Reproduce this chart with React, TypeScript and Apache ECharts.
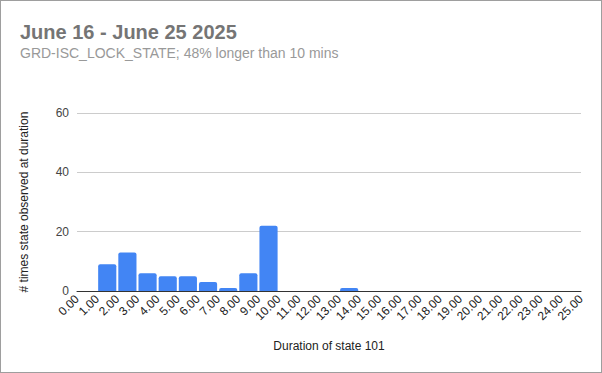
import React, { useEffect, useRef } from "react";
import * as echarts from "echarts";

const titleText = "June 16 - June 25 2025";
const subtitleText = "GRD-ISC_LOCK_STATE; 48% longer than 10 mins";
const xAxisTitle = "Duration of state 101";
const yAxisTitle = "# times state observed at duration";
const binStarts = [0, 1, 2, 3, 4, 5, 6, 7, 8, 9, 10, 11, 12, 13, 14, 15, 16, 17, 18, 19, 20, 21, 22, 23, 24];
const counts = [0, 9, 13, 6, 5, 5, 3, 1, 6, 22, 0, 0, 0, 1, 0, 0, 0, 0, 0, 0, 0, 0, 0, 0, 0];
const binWidth = 1;

export default function App() {
  const ref = useRef<HTMLDivElement>(null);
  useEffect(() => {
    if (!ref.current) return;
    const chart = echarts.init(ref.current, null, { renderer: "svg" });
    const data = binStarts
      .map((s, i) => [s, s + binWidth, counts[i]])
      .filter((d) => d[2] > 0);
    chart.setOption({
      animation: false,
      textStyle: { fontFamily: "Liberation Sans, Arial, sans-serif" },
      title: [
        {
          text: titleText,
          left: 14,
          top: 16,
          textStyle: { fontSize: 20, fontWeight: "bold", color: "#757575", fontFamily: "Liberation Sans, Arial, sans-serif" },
        },
        {
          text: subtitleText,
          left: 14,
          top: 40,
          textStyle: { fontSize: 14, fontWeight: "normal", color: "#999999", fontFamily: "Liberation Sans, Arial, sans-serif" },
        },
      ],
      grid: { left: 76, right: 20, top: 112, bottom: 81 },
      xAxis: {
        type: "value",
        min: 0,
        max: 25,
        interval: 1,
        name: xAxisTitle,
        nameLocation: "middle",
        nameGap: 49,
        nameTextStyle: { color: "#222", fontSize: 12 },
        axisLine: { show: true, lineStyle: { color: "#333", width: 1 } },
        axisTick: { show: false },
        splitLine: { show: false },
        axisLabel: {
          rotate: 45,
          margin: 6,
          color: "#222",
          fontSize: 12,
          formatter: (v: number) => v.toFixed(2),
          showMinLabel: true,
          showMaxLabel: true,
        },
      },
      yAxis: {
        type: "value",
        min: 0,
        max: 60,
        interval: 20,
        name: yAxisTitle,
        nameLocation: "middle",
        nameGap: 47,
        nameTextStyle: { color: "#222", fontSize: 12 },
        axisLine: { show: false },
        axisTick: { show: false },
        splitLine: { lineStyle: { color: "#cccccc", width: 1 } },
        axisLabel: { color: "#444", fontSize: 12, margin: 8 },
      },
      series: [
        {
          type: "custom",
          data,
          encode: { x: [0, 1], y: 2 },
          renderItem: (params: any, api: any) => {
            const start = api.coord([api.value(0), api.value(2)]);
            const end = api.coord([api.value(1), 0]);
            return {
              type: "rect",
              shape: {
                x: start[0] + 1,
                y: start[1],
                width: end[0] - start[0] - 2,
                height: end[1] - start[1],
                r: [2, 2, 0, 0],
              },
              style: { fill: "#4285f4" },
            };
          },
        },
      ],
    });
    return () => chart.dispose();
  }, []);
  return (
    <div
      style={{
        position: "fixed",
        left: 0,
        top: 0,
        width: 602,
        height: 373,
        border: "1px solid #9e9e9e",
        boxSizing: "border-box",
        background: "#fff",
      }}
    >
      <div ref={ref} style={{ width: 600, height: 371 }} />
    </div>
  );
}
